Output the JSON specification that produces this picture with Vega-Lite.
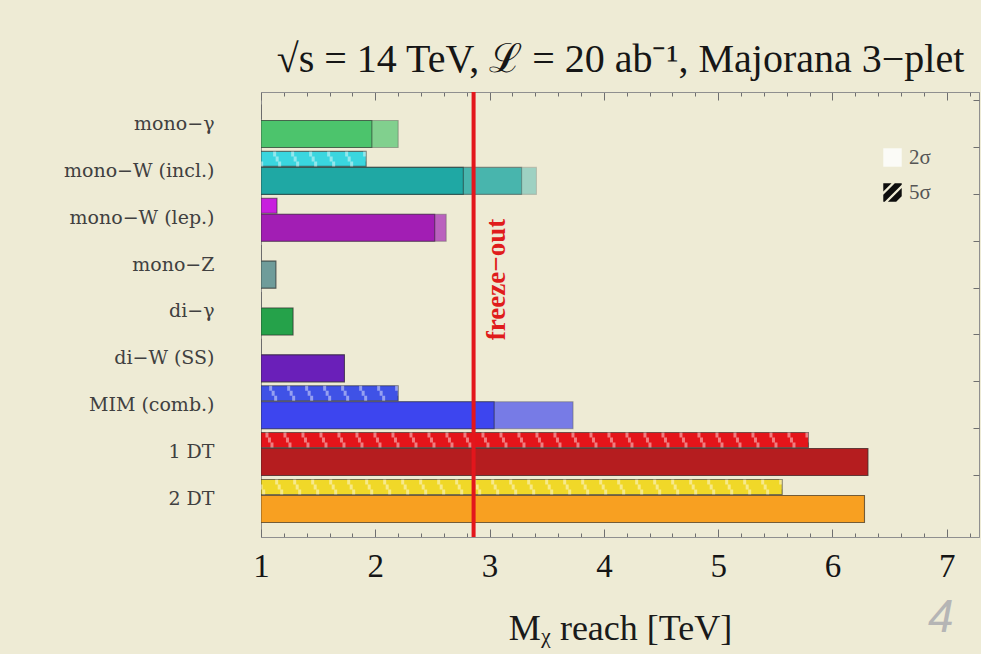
{
  "$schema": "https://vega.github.io/schema/vega-lite/v6.json",
  "width": 718,
  "height": 445,
  "autosize": "none",
  "padding": {"left": 261, "top": 92, "right": 2, "bottom": 117},
  "background": "#eeebd5",
  "config": {
    "view": {"stroke": "#8f8f8f", "strokeWidth": 1},
    "font": "Liberation Serif"
  },
  "title": {
    "text": "4",
    "orient": "bottom",
    "anchor": "end",
    "font": "Liberation Sans",
    "fontStyle": "italic",
    "fontWeight": "normal",
    "fontSize": 46,
    "color": "#b5b5b5",
    "offset": -50,
    "dx": -26
  },
  "datasets": {
    "reach": [
      {"channel": "mono−γ", "sigma5": 1.0, "sigma2": 1.97, "sigma2_ext": 2.20},
      {"channel": "mono−W (incl.)", "sigma5": 1.92, "sigma2": 2.77, "sigma2_ext": 3.28, "sigma2_far": 3.41},
      {"channel": "mono−W (lep.)", "sigma5": 1.14, "sigma2": 2.52, "sigma2_ext": 2.62},
      {"channel": "mono−Z", "sigma5": 1.0, "sigma2": 1.13, "sigma2_ext": 1.13},
      {"channel": "di−γ", "sigma5": 1.0, "sigma2": 1.28, "sigma2_ext": 1.28},
      {"channel": "di−W (SS)", "sigma5": 1.0, "sigma2": 1.73, "sigma2_ext": 1.73},
      {"channel": "MIM (comb.)", "sigma5": 2.20, "sigma2": 3.04, "sigma2_ext": 3.73},
      {"channel": "1 DT", "sigma5": 5.79, "sigma2": 6.31, "sigma2_ext": 6.31},
      {"channel": "2 DT", "sigma5": 5.56, "sigma2": 6.28, "sigma2_ext": 6.28}
    ],
    "levels": [{"level": "2σ"}, {"level": "5σ"}],
    "freezeout": [{"mass": 2.86, "label": "freeze−out"}]
  },
  "resolve": {"scale": {"fill": "independent"}},
  "layer": [
    {
      "data": {"name": "reach"},
      "mark": {"type": "bar", "height": 27, "yOffset": 10, "opacity": 0.38, "stroke": "#262626", "strokeOpacity": 0.5, "strokeWidth": 1.1, "clip": true},
      "encoding": {
        "y": {"field": "channel", "type": "nominal", "sort": null, "axis": null,
              "scale": {"domain": ["mono−γ", "mono−W (incl.)", "mono−W (lep.)", "mono−Z", "di−γ", "di−W (SS)", "MIM (comb.)", "1 DT", "2 DT"], "paddingInner": 0, "paddingOuter": 0.248, "align": 0.37}},
        "x": {"field": "sigma2_far", "type": "quantitative", "axis": null, "scale": {"domain": [1, 7.282], "nice": false, "zero": false}},
        "x2": {"datum": 1, "type": "quantitative"},
        "fill": {"field": "channel", "type": "nominal", "legend": null,
                 "scale": {"domain": ["mono−γ", "mono−W (incl.)", "mono−W (lep.)", "mono−Z", "di−γ", "di−W (SS)", "MIM (comb.)", "1 DT", "2 DT"],
                           "range": ["#4cc46c", "#1fa8a4", "#a21eb4", "#6f9c9a", "#25a24a", "#6a1fb9", "#3d45ef", "#b51d1f", "#f8a021"]}}
      }
    },
    {
      "data": {"name": "reach"},
      "mark": {"type": "bar", "height": 27, "yOffset": 10, "opacity": 0.67, "stroke": "#262626", "strokeOpacity": 0.5, "strokeWidth": 1.1, "clip": true},
      "encoding": {
        "y": {"field": "channel", "type": "nominal", "sort": null, "axis": null},
        "x": {"field": "sigma2_ext", "type": "quantitative", "axis": null},
        "x2": {"datum": 1, "type": "quantitative"},
        "fill": {"field": "channel", "type": "nominal", "legend": null,
                 "scale": {"domain": ["mono−γ", "mono−W (incl.)", "mono−W (lep.)", "mono−Z", "di−γ", "di−W (SS)", "MIM (comb.)", "1 DT", "2 DT"],
                           "range": ["#4cc46c", "#1fa8a4", "#a21eb4", "#6f9c9a", "#25a24a", "#6a1fb9", "#3d45ef", "#b51d1f", "#f8a021"]}}
      }
    },
    {
      "data": {"name": "reach"},
      "mark": {"type": "bar", "height": 27, "yOffset": 10, "stroke": "#262626", "strokeOpacity": 0.55, "strokeWidth": 1.1, "clip": true},
      "encoding": {
        "y": {"field": "channel", "type": "nominal", "sort": null,
              "axis": {"orient": "left", "title": null, "ticks": false, "domain": false, "labelFont": "DejaVu Serif", "labelFontSize": 19, "labelColor": "#404040", "labelPadding": 47}},
        "x": {"field": "sigma2", "type": "quantitative",
              "axis": {"orient": "bottom", "grid": false, "format": ".0f",
                       "values": [1, 1.2, 1.4, 1.6, 1.8, 2, 2.2, 2.4, 2.6, 2.8, 3, 3.2, 3.4, 3.6, 3.8, 4, 4.2, 4.4, 4.6, 4.8, 5, 5.2, 5.4, 5.6, 5.8, 6, 6.2, 6.4, 6.6, 6.8, 7, 7.2],
                       "labelExpr": "abs(datum.value - round(datum.value)) < 0.01 ? datum.label : ''",
                       "labelOverlap": false, "labelFlush": false,
                       "tickSize": {"condition": {"test": "abs(datum.value - round(datum.value)) < 0.01", "value": -8}, "value": -4},
                       "tickColor": "#6f6f6f", "domainColor": "#8f8f8f",
                       "labelFont": "Liberation Serif", "labelFontSize": 33, "labelColor": "#151515", "labelPadding": 21,
                       "title": "Mᵪ reach [TeV]", "titleFont": "Liberation Serif", "titleFontSize": 36, "titleFontWeight": "normal", "titleColor": "#1a1a1a", "titlePadding": 24}},
        "x2": {"datum": 1, "type": "quantitative"},
        "fill": {"field": "channel", "type": "nominal", "legend": null,
                 "scale": {"domain": ["mono−γ", "mono−W (incl.)", "mono−W (lep.)", "mono−Z", "di−γ", "di−W (SS)", "MIM (comb.)", "1 DT", "2 DT"],
                           "range": ["#4cc46c", "#1fa8a4", "#a21eb4", "#6f9c9a", "#25a24a", "#6a1fb9", "#3d45ef", "#b51d1f", "#f8a021"]}}
      }
    },
    {
      "data": {"name": "reach"},
      "mark": {"type": "bar", "height": 15, "yOffset": -12, "stroke": "#262626", "strokeOpacity": 0.6, "strokeWidth": 1.1, "clip": true},
      "encoding": {
        "y": {"field": "channel", "type": "nominal", "sort": null,
              "axis": {"orient": "right", "title": null, "labels": false, "domain": false, "bandPosition": 0, "tickSize": -6, "tickColor": "#6f6f6f"}},
        "x": {"field": "sigma5", "type": "quantitative",
              "axis": {"orient": "top", "grid": false, "labels": false,
                       "values": [1, 1.2, 1.4, 1.6, 1.8, 2, 2.2, 2.4, 2.6, 2.8, 3, 3.2, 3.4, 3.6, 3.8, 4, 4.2, 4.4, 4.6, 4.8, 5, 5.2, 5.4, 5.6, 5.8, 6, 6.2, 6.4, 6.6, 6.8, 7, 7.2],
                       "tickSize": {"condition": {"test": "abs(datum.value - round(datum.value)) < 0.01", "value": -8}, "value": -4},
                       "tickColor": "#6f6f6f", "domainColor": "#8f8f8f",
                       "title": "√s = 14 TeV, ℒ = 20 ab⁻¹, Majorana 3−plet", "titleFont": "Liberation Serif", "titleFontSize": 40, "titleFontWeight": "normal", "titleColor": "#161616", "titlePadding": 12}},
        "x2": {"datum": 1, "type": "quantitative"},
        "fill": {"field": "channel", "type": "nominal", "legend": null,
                 "scale": {"domain": ["mono−γ", "mono−W (incl.)", "mono−W (lep.)", "mono−Z", "di−γ", "di−W (SS)", "MIM (comb.)", "1 DT", "2 DT"],
                           "range": ["#4cc46c", "#3ad6df", "#c81ede", "#6f9c9a", "#25a24a", "#6a1fb9", "#3f52e6", "#e4141a", "#f0d828"]}}
      }
    },
    {
      "data": {"name": "reach"},
      "transform": [{"filter": "datum.sigma5 > 1.5"}],
      "mark": {"type": "rule", "yOffset": -17, "strokeWidth": 5, "strokeDash": [3, 15], "strokeDashOffset": 0, "color": "white", "opacity": 0.45, "strokeCap": "butt"},
      "encoding": {
        "y": {"field": "channel", "type": "nominal", "sort": null, "axis": null},
        "x": {"field": "sigma5", "type": "quantitative", "axis": null},
        "x2": {"datum": 1, "type": "quantitative"}
      }
    },
    {
      "data": {"name": "reach"},
      "transform": [{"filter": "datum.sigma5 > 1.5"}],
      "mark": {"type": "rule", "yOffset": -12, "strokeWidth": 5, "strokeDash": [3, 15], "strokeDashOffset": 2.5, "color": "white", "opacity": 0.45, "strokeCap": "butt"},
      "encoding": {
        "y": {"field": "channel", "type": "nominal", "sort": null, "axis": null},
        "x": {"field": "sigma5", "type": "quantitative", "axis": null},
        "x2": {"datum": 1, "type": "quantitative"}
      }
    },
    {
      "data": {"name": "reach"},
      "transform": [{"filter": "datum.sigma5 > 1.5"}],
      "mark": {"type": "rule", "yOffset": -7, "strokeWidth": 5, "strokeDash": [3, 15], "strokeDashOffset": 5, "color": "white", "opacity": 0.45, "strokeCap": "butt"},
      "encoding": {
        "y": {"field": "channel", "type": "nominal", "sort": null, "axis": null},
        "x": {"field": "sigma5", "type": "quantitative", "axis": null},
        "x2": {"datum": 1, "type": "quantitative"}
      }
    },
    {
      "data": {"name": "freezeout"},
      "mark": {"type": "rule", "color": "#e3161c", "strokeWidth": 4},
      "encoding": {"x": {"field": "mass", "type": "quantitative", "axis": null}}
    },
    {
      "data": {"name": "freezeout"},
      "mark": {"type": "text", "angle": 270, "dx": 35, "dy": 23, "align": "center", "baseline": "middle", "font": "Liberation Serif", "fontWeight": "bold", "fontSize": 27, "color": "#e01c1c"},
      "encoding": {
        "x": {"field": "mass", "type": "quantitative", "axis": null},
        "text": {"field": "label"}
      }
    },
    {
      "data": {"name": "levels"},
      "mark": {"type": "point", "filled": true, "opacity": 0},
      "encoding": {
        "color": {"field": "level", "type": "nominal",
                 "scale": {"domain": ["2σ", "5σ"], "range": ["#fbfbf7", "#0d0d0d"]},
                 "legend": {"orient": "none", "legendX": 621, "legendY": 55, "title": null, "symbolSize": 340, "symbolOpacity": 1, "symbolStrokeColor": "#dcdcdc", "symbolStrokeWidth": 0.6, "labelFont": "Liberation Serif", "labelFontSize": 21, "labelColor": "#555555", "labelOffset": 6, "rowPadding": 13}},
        "shape": {"field": "level", "type": "nominal",
                  "scale": {"domain": ["2σ", "5σ"], "range": ["square", "M-1,-1L-0.1,-1L-1,-0.1Z M-1,0.25L0.25,-1L1,-1L1,-0.85L-0.85,1L-1,1Z M-0.5,1L1,-0.5L1,0.4L0.4,1Z"]},
                  "legend": {"orient": "none", "legendX": 621, "legendY": 55, "title": null, "symbolSize": 340, "symbolOpacity": 1, "symbolStrokeColor": "#dcdcdc", "symbolStrokeWidth": 0.6, "labelFont": "Liberation Serif", "labelFontSize": 21, "labelColor": "#555555", "labelOffset": 6, "rowPadding": 13}}
      }
    }
  ]
}
